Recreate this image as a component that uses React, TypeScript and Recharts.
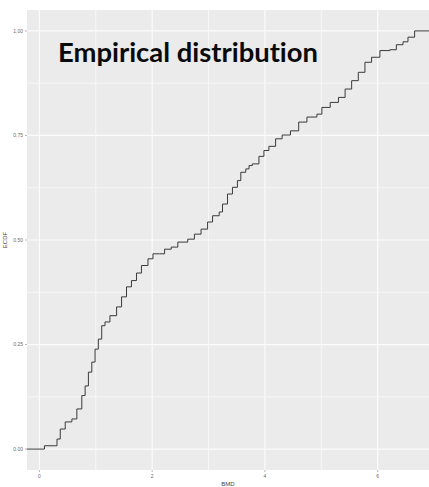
import React from 'react';
import { LineChart, Line, XAxis, YAxis, CartesianGrid, ReferenceLine } from 'recharts';

const bmd = [
  -0.22, 0.088, 0.09, 0.264, 0.312, 0.37, 0.458, 0.576, 0.664, 0.752, 0.811, 0.869, 0.929, 0.987,
  1.045, 1.105, 1.163, 1.251, 1.369, 1.457, 1.545, 1.633, 1.722, 1.81, 1.926, 2.014, 2.132, 2.22,
  2.338, 2.455, 2.631, 2.749, 2.867, 2.983, 3.071, 3.189, 3.248, 3.336, 3.424, 3.512, 3.572, 3.66,
  3.718, 3.776, 3.894, 3.982, 4.07, 4.189, 4.305, 4.453, 4.599, 4.745, 4.922, 5.01, 5.158, 5.304,
  5.422, 5.538, 5.656, 5.774, 5.891, 6.039, 6.215, 6.331, 6.449, 6.537, 6.655, 6.91,
];
const ecdf = [
  0, 0, 0.008, 0.008, 0.024, 0.048, 0.065, 0.072, 0.096, 0.128, 0.151, 0.184, 0.208, 0.239,
  0.263, 0.295, 0.304, 0.319, 0.34, 0.364, 0.388, 0.403, 0.421, 0.439, 0.455, 0.467, 0.467, 0.478,
  0.483, 0.495, 0.502, 0.514, 0.526, 0.543, 0.558, 0.567, 0.586, 0.61, 0.626, 0.642, 0.662, 0.67,
  0.678, 0.682, 0.7, 0.714, 0.724, 0.742, 0.751, 0.761, 0.782, 0.794, 0.801, 0.817, 0.829, 0.841,
  0.861, 0.881, 0.901, 0.925, 0.937, 0.953, 0.955, 0.967, 0.974, 0.985, 1, 1,
];

const xTicks = [0, 2, 4, 6];
const yTicks = [0, 0.25, 0.5, 0.75, 1];
const xMinor = [1, 3, 5];
const yMinor = [0.125, 0.375, 0.625, 0.875];

const data = bmd.map((x, i) => ({ x, y: ecdf[i] }));

const tickStyle = { fontSize: 5, fill: '#6b6b6b', fontFamily: 'Liberation Sans, Arial, sans-serif' };

export default function App() {
  return (
    <div style={{ position: 'absolute', left: 0, top: 0, width: 429, height: 487, background: '#fff' }}>
      <LineChart width={429} height={487} data={data} margin={{ top: 10, right: 0, bottom: 0, left: 0 }}>
        <CartesianGrid fill="#ebebeb" stroke="#fbfbfb" strokeWidth={1.2} horizontalValues={yTicks} verticalValues={xTicks} />
        {xMinor.map((v) => (
          <ReferenceLine key={'vx' + v} x={v} stroke="#f7f7f7" strokeWidth={1} />
        ))}
        {yMinor.map((v) => (
          <ReferenceLine key={'hy' + v} y={v} stroke="#f7f7f7" strokeWidth={1} />
        ))}
        <XAxis
          dataKey="x"
          type="number"
          domain={[-0.22, 6.91]}
          ticks={xTicks}
          allowDataOverflow
          height={17}
          axisLine={false}
          tickSize={2}
          tickLine={{ stroke: '#6b6b6b', strokeWidth: 0.5 }}
          tick={tickStyle}
          label={{ value: 'BMD', position: 'insideBottom', offset: 1, style: { fontSize: 6, fill: '#444', fontFamily: 'Liberation Sans, Arial, sans-serif' } }}
        />
        <YAxis
          type="number"
          domain={[-0.05, 1.05]}
          ticks={yTicks}
          allowDataOverflow
          width={27}
          axisLine={false}
          tickSize={2}
          tickLine={{ stroke: '#6b6b6b', strokeWidth: 0.5 }}
          tick={tickStyle}
          tickFormatter={(v: number) => v.toFixed(2)}
          label={{ value: 'ECDF', angle: -90, position: 'insideLeft', offset: 5, style: { fontSize: 6, fill: '#444', fontFamily: 'Liberation Sans, Arial, sans-serif', textAnchor: 'middle' } }}
        />
        <Line
          type="stepAfter"
          dataKey="y"
          stroke="#3a3a3a"
          strokeWidth={1}
          dot={false}
          isAnimationActive={false}
        />
      </LineChart>
      <svg width={429} height={487} style={{ position: 'absolute', left: 0, top: 0, pointerEvents: 'none' }}>
        <text
          x={58}
          y={62}
          textLength={260}
          lengthAdjust="spacingAndGlyphs"
          style={{
            fontFamily: 'Lato, sans-serif',
            fontWeight: 700,
            fontSize: 26,
            fill: '#0a0a0a',
            fontVariantLigatures: 'none',
            fontFeatureSettings: '"liga" 0, "clig" 0',
          }}
        >
          Empirical distribution
        </text>
      </svg>
    </div>
  );
}
